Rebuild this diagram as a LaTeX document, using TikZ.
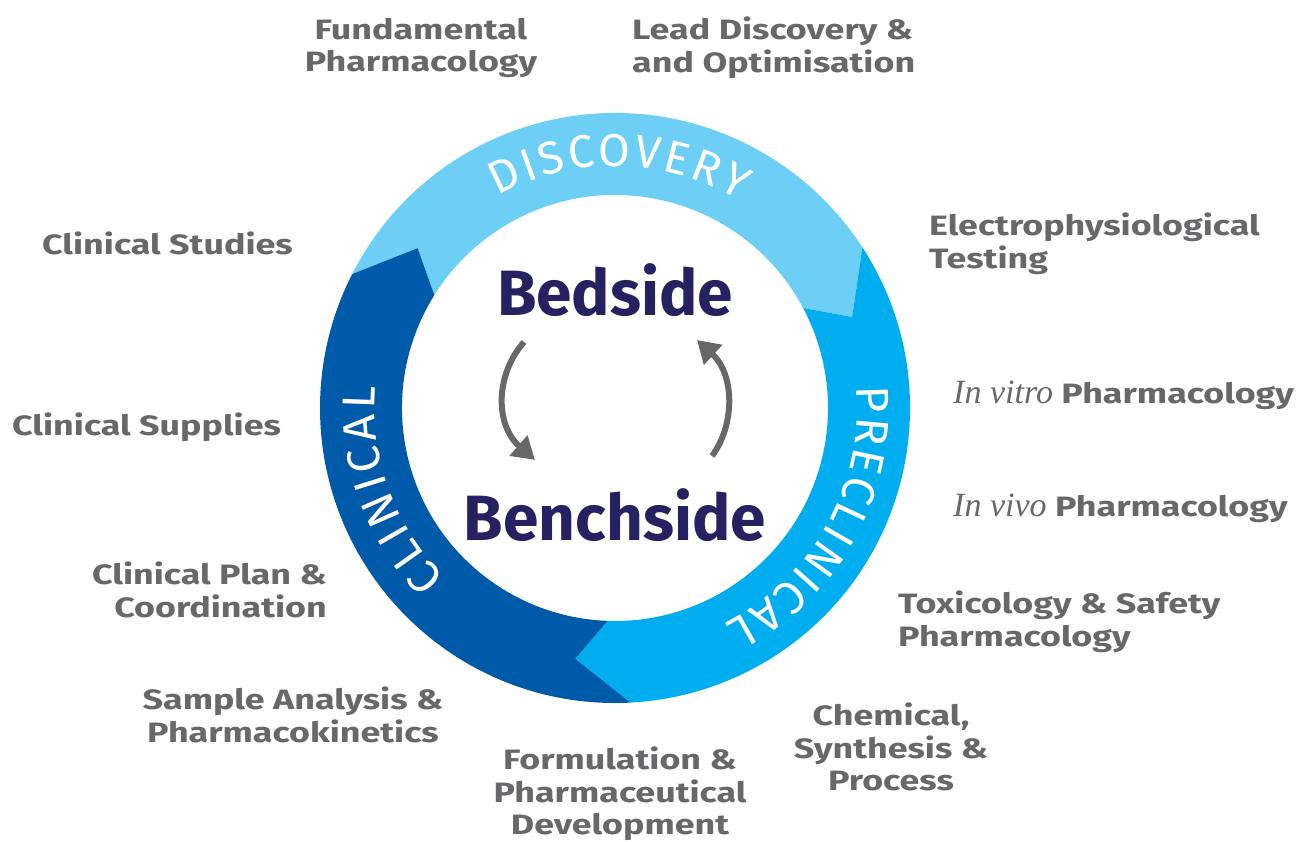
\documentclass[tikz,border=0pt]{standalone}
\usepackage{fontspec}
\setmainfont{Fira Sans}
\newfontfamily\widesans{Fira Sans}[FakeStretch=1.28]
\newfontfamily\latinserif{Liberation Serif}
\usepackage{tikz}
\usetikzlibrary{positioning,arrows.meta,decorations.text}

\definecolor{discblue}{RGB}{109,207,246}
\definecolor{preblue}{RGB}{0,174,239}
\definecolor{clinblue}{RGB}{0,90,170}
\definecolor{labelgrey}{RGB}{104,104,106}
\definecolor{arrowgrey}{RGB}{104,104,104}
\definecolor{benchnavy}{RGB}{38,34,98}

\newcommand{\ringtype}{\fontsize{46}{46}\selectfont}
\newcommand{\latinword}[1]{{\latinserif\mdseries\itshape\fontsize{34}{34}\selectfont #1}}

\tikzset{
  activity/.style={text=labelgrey, inner sep=0pt, font=\widesans\fontsize{28}{32.5}\selectfont\bfseries},
  bigword/.style={text=benchnavy, inner sep=0pt, font=\fontsize{64}{64}\selectfont\bfseries},
  ringword/.style={decorate, decoration={text along path, text align=fit to path, text color=white}},
}

% colour, start angle, end angle of one part of the ring
\newcommand{\ringseg}[3]{%
  \fill[#1] ([shift={(#2:295pt)}]hub) arc[start angle=#2, end angle=#3, radius=295pt]
    -- ([shift={(#3-12:254pt)}]hub) -- ([shift={(#3-5:213pt)}]hub)
    arc[start angle=#3-5, end angle=#2-5, radius=213pt]
    -- ([shift={(#2-12:254pt)}]hub) -- cycle;
}

\begin{document}
\begin{tikzpicture}[x=1pt, y=1pt, >={Triangle[length=22pt, width=26pt]}]
\useasboundingbox (0,0) rectangle (1309,842);
\coordinate (hub) at (615,434);
%% ring
\ringseg{discblue}{153}{33}
\ringseg{preblue}{33}{-87}
\ringseg{clinblue}{273}{153}
\path[ringword, decoration={text={|\ringtype|DISCOVERY}}] ([shift={(119:242pt)}]hub) arc[start angle=119, end angle=59, radius=242pt];
\path[ringword, decoration={text={|\ringtype|PRECLINICAL}}] ([shift={(5:242pt)}]hub) arc[start angle=5, end angle=-63, radius=242pt];
\path[ringword, decoration={text={|\ringtype|CLINICAL}}] ([shift={(225:240pt)}]hub) arc[start angle=225, end angle=175, radius=240pt];
%% centre
\node[bigword] (bedside) at (615,552) {Bedside};
\node[bigword] (benchside) at (615,327) {Benchside};
\coordinate (downtail) at (524,500);
\coordinate (downhead) at (535,382);
\coordinate (uptail) at (712,386);
\coordinate (uphead) at (697,502);
\draw[->, arrowgrey, line width=6pt] (downtail) .. controls (495,467) and (495,417) .. (downhead);
\draw[->, arrowgrey, line width=6pt] (uptail) .. controls (735,417) and (735,467) .. (uphead);
%% activities
\node[activity, align=center] (fundpharm) at (421,794) {Fundamental\\Pharmacology};
\node[activity, align=left, anchor=west] (leaddisc) at (632,794) {Lead Discovery \&\\and Optimisation};
\node[activity, align=left, anchor=west] (electro) at (929,598) {Electrophysiological\\Testing};
\node[activity, anchor=west] (invitro) at (953,447) {\latinword{In vitro} Pharmacology};
\node[activity, anchor=west] (invivo) at (953,334) {\latinword{In vivo} Pharmacology};
\node[activity, align=left, anchor=west] (toxsafe) at (898,220) {Toxicology \& Safety\\Pharmacology};
\node[activity, align=center] (chemsynth) at (891,95) {Chemical,\\Synthesis \&\\Process};
\node[activity, align=center] (formdev) at (620,48) {Formulation \&\\Pharmaceutical\\Development};
\node[activity, align=center] (samplepk) at (293,127) {Sample Analysis \&\\Pharmacokinetics};
\node[activity, align=right, anchor=east] (clinplan) at (327,252) {Clinical Plan \&\\Coordination};
\node[activity, anchor=west] (clinsupp) at (12,415) {Clinical Supplies};
\node[activity, anchor=west] (clinstud) at (42,599) {Clinical Studies};
%
\end{tikzpicture}
\end{document}
